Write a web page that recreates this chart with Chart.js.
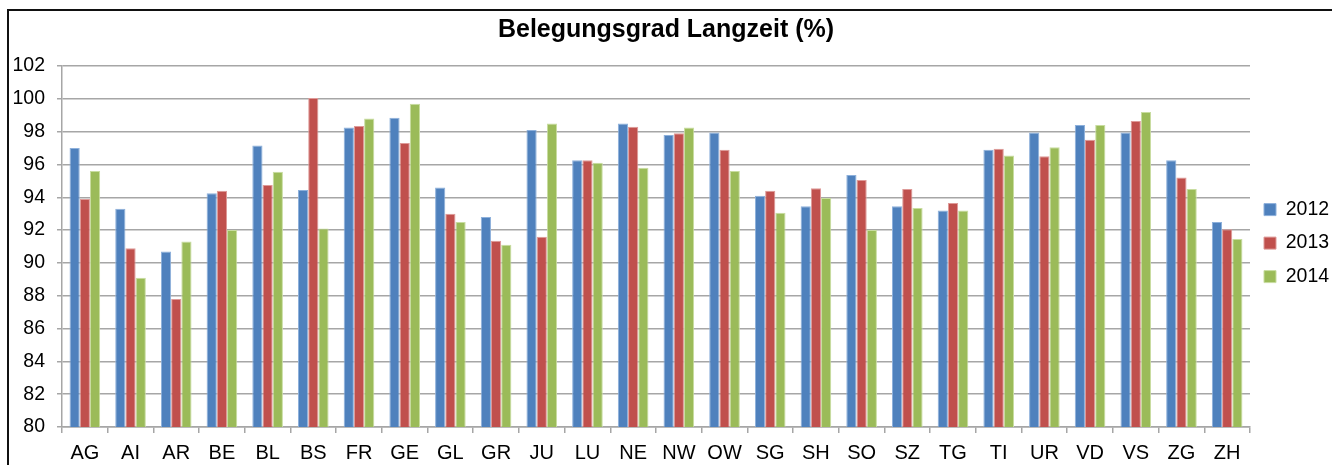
<!DOCTYPE html>
<html>
<head>
<meta charset="utf-8">
<script src="https://cdn.jsdelivr.net/npm/chart.js@4"></script>
<style>
  html, body { margin: 0; padding: 0; background: #fff; overflow: hidden; }
  #wrap { position: relative; width: 1332px; height: 465px; }
  #frame { position: absolute; left: 7px; top: 9px; width: 2000px; height: 2000px;
           border-left: 2px solid #111; border-top: 2px solid #111; pointer-events: none; }
</style>
</head>
<body>
<div id="wrap">
  <canvas id="myChart" width="1332" height="465"></canvas>
  <div id="frame"></div>
</div>
<script>
var kantone = ['AG','AI','AR','BE','BL','BS','FR','GE','GL','GR','JU','LU','NE','NW','OW','SG','SH','SO','SZ','TG','TI','UR','VD','VS','ZG','ZH'];

var werte2012 = [97.0, 93.3, 90.7, 94.25, 97.15, 94.45, 98.25, 98.85, 94.6, 92.8, 98.1, 96.25, 98.5, 97.8, 97.95, 94.1, 93.45, 95.35, 93.45, 93.2, 96.9, 97.95, 98.4, 97.95, 96.25, 92.5];
var werte2013 = [93.9, 90.9, 87.8, 94.4, 94.75, 100.05, 98.35, 97.3, 93.0, 91.35, 91.6, 96.25, 98.3, 97.9, 96.9, 94.4, 94.55, 95.05, 94.5, 93.65, 96.95, 96.5, 97.5, 98.65, 95.2, 92.05];
var werte2014 = [95.6, 89.1, 91.3, 92.0, 95.55, 92.1, 98.8, 99.7, 92.5, 91.1, 98.5, 96.1, 95.8, 98.25, 95.6, 93.05, 93.95, 92.0, 93.35, 93.2, 96.55, 97.05, 98.4, 99.2, 94.5, 91.45];

var yMin = 80;
var yMax = 102;
var yStep = 2;

var schrift = 'Liberation Sans, Arial, sans-serif';

function input() {
    var ctx = document.getElementById('myChart').getContext('2d');
    var chart = new Chart(ctx, {
        type: 'bar',
        data: {
            labels: kantone,
            datasets: [
                { label: '2012', data: werte2012, backgroundColor: '#4F81BD', borderColor: '#8DB0DB', borderWidth: 1 },
                { label: '2013', data: werte2013, backgroundColor: '#C0504D', borderColor: '#DE9A98', borderWidth: 1 },
                { label: '2014', data: werte2014, backgroundColor: '#9BBB59', borderColor: '#C8DDA0', borderWidth: 1 }
            ]
        },
        options: {
            responsive: false,
            animation: false,
            layout: { padding: { left: 0, right: 0, top: 0, bottom: 0 } },
            datasets: { bar: { categoryPercentage: 0.67, barPercentage: 1.0 } },
            plugins: {
                title: {
                    display: true,
                    text: 'Belegungsgrad Langzeit (%)',
                    color: '#000',
                    font: { family: schrift, size: 25, weight: 'bold' },
                    padding: { top: 15, bottom: 21 }
                },
                legend: {
                    position: 'right',
                    maxWidth: 82,
                    title: { display: true, text: ' ', font: { size: 1 }, padding: { top: 0, bottom: 20 } },
                    labels: {
                        color: '#000',
                        font: { family: schrift, size: 19.5 },
                        boxWidth: 12,
                        boxHeight: 12,
                        padding: 14
                    }
                },
                tooltip: { enabled: false }
            },
            scales: {
                y: {
                    min: yMin,
                    max: yMax,
                    ticks: { stepSize: yStep, color: '#000', font: { family: schrift, size: 19.5 }, padding: 12 },
                    grid: { color: '#a6a6a6', lineWidth: 1.5, tickLength: 5 },
                    border: { color: '#a6a6a6', width: 1.5 },
                    afterFit: function (s) { s.width = 62; }
                },
                x: {
                    ticks: { color: '#000', font: { family: schrift, size: 20 }, padding: 8 },
                    grid: { offset: true, drawOnChartArea: false, color: '#a6a6a6', lineWidth: 1.5, tickLength: 6 },
                    border: { color: '#a6a6a6', width: 1.5 },
                    afterFit: function (s) { s.height = 38; }
                }
            }
        }
    });
}
input();
</script>
</body>
</html>
